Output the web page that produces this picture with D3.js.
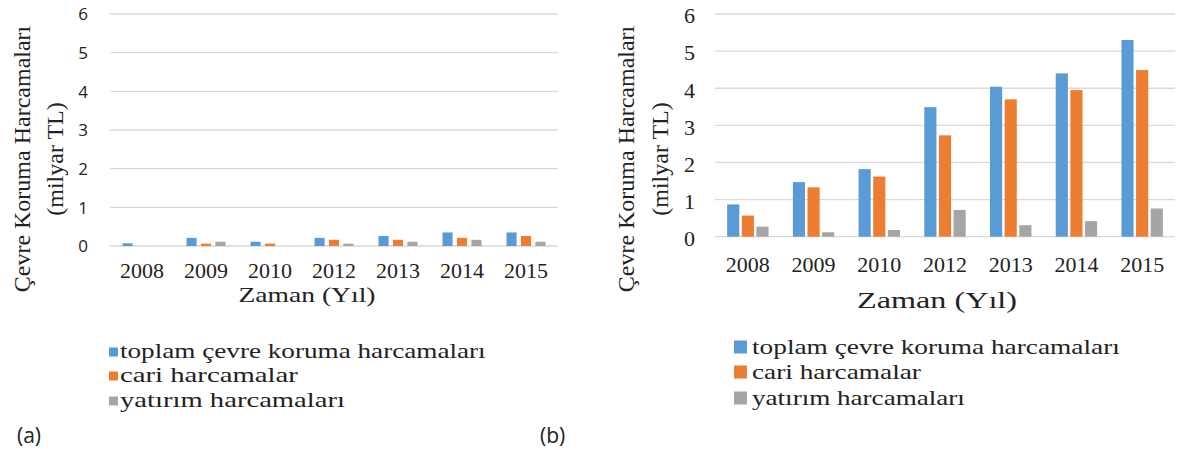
<!DOCTYPE html>
<html><head><meta charset="utf-8">
<script src="https://cdn.jsdelivr.net/npm/d3@7"></script>
<style>body{margin:0;background:#fff}svg{display:block}</style>
</head><body>
<svg id="c" width="1184" height="450"></svg>
<script>
const years = ["2008","2009","2010","2012","2013","2014","2015"];
const seriesNames = ["toplam çevre koruma harcamaları","cari harcamalar","yatırım harcamaları"];
const seriesColors = ["#5B9BD5","#ED7D31","#A5A5A5"];
const yTicks = [0,1,2,3,4,5,6];
// panel (a)
const aTotal   = [0.07, 0.21, 0.11, 0.21, 0.26, 0.35, 0.35];
const aCurrent = [0.00, 0.06, 0.06, 0.16, 0.16, 0.21, 0.26];
const aInvest  = [0.00, 0.11, 0.00, 0.06, 0.11, 0.16, 0.11];
// panel (b)
const bTotal   = [0.87, 1.47, 1.82, 3.49, 4.04, 4.40, 5.30];
const bCurrent = [0.57, 1.33, 1.62, 2.73, 3.70, 3.95, 4.49];
const bInvest  = [0.27, 0.12, 0.18, 0.72, 0.31, 0.42, 0.76];
const yTitle1 = "Çevre Koruma Harcamaları";
const yTitle2 = "(milyar TL)";
const xTitle = "Zaman (Yıl)";

const svg = d3.select("#c");
const SERIF = "'Liberation Serif', 'Times New Roman', serif";
const SANS = "'Open Sans', 'Noto Sans', sans-serif";

// text stretched horizontally to a target width
function stretched(g, str, x, y, size, target, anchor) {
  const t = g.append("text").attr("font-family", SERIF).attr("font-size", size)
    .attr("fill", "#222").attr("text-anchor", anchor).attr("x", 0).attr("y", 0).text(str);
  const w = t.node().getComputedTextLength();
  const sx = target / w;
  t.attr("transform", `translate(${x},${y}) scale(${sx},1)`);
  return t;
}

function panel(o, data) {
  const g = svg.append("g");
  const x0 = d3.scaleBand().domain(years).range([o.x0, o.x1]).paddingInner(o.pin).paddingOuter(o.pin/2);
  const x1 = d3.scaleBand().domain([0,1,2]).range([0, x0.bandwidth()]).paddingInner(o.pbar);
  const y = d3.scaleLinear().domain([0,6]).range([o.yb, o.yt]);
  g.append("g").selectAll("line").data(yTicks).join("line")
    .attr("x1", o.x0).attr("x2", o.x1).attr("y1", d=>y(d)).attr("y2", d=>y(d))
    .attr("stroke", "#D9D9D9").attr("stroke-width", 1.3);
  const ya = d3.axisLeft(y).tickValues(yTicks).tickSize(0).tickPadding(0).tickFormat(d3.format("d"));
  const yg = g.append("g").attr("transform", `translate(${o.tickX},0)`).call(ya);
  yg.select(".domain").remove();
  yg.selectAll("text").attr("font-family", o.tickFont).attr("font-size", o.tickSize)
    .attr("fill", "#222").attr("dy", o.tickDy);
  const rows = years.map((yr,i)=>({yr, vals:[data[0][i],data[1][i],data[2][i]]}));
  const grp = g.append("g").selectAll("g").data(rows).join("g")
    .attr("transform", d=>`translate(${x0(d.yr)},0)`);
  grp.selectAll("rect").data(d=>d.vals.map((v,k)=>({v,k}))).join("rect")
    .attr("x", d=>x1(d.k)).attr("width", x1.bandwidth())
    .attr("y", d=>y(d.v)).attr("height", d=>y(0)-y(d.v))
    .attr("fill", d=>seriesColors[d.k]);
  const xa = d3.axisBottom(x0).tickSize(0).tickPadding(0);
  const xg = g.append("g").attr("transform", `translate(0,${o.xLabY})`).call(xa);
  xg.select(".domain").remove();
  xg.selectAll("text").attr("font-family", SERIF).attr("font-size", o.xSize).attr("fill", "#222").attr("dy", 0);
  // x title
  stretched(g, xTitle, o.xtX, o.xtY, o.xtSize, o.xtLen, "middle");
  // y title (two lines, rotated)
  [[yTitle1,o.yt1X],[yTitle2,o.yt2X]].forEach(([t,xx])=>{
    g.append("text").attr("transform", `translate(${xx},${o.ytY}) rotate(-90)`)
      .attr("text-anchor","middle").attr("font-family", SERIF).attr("font-size", o.ytSize)
      .attr("fill","#222").text(t);
  });
  // legend
  seriesNames.forEach((s,k)=>{
    const cy = o.legY[k];
    g.append("rect").attr("x", o.legX).attr("y", cy - o.legSq/2).attr("width", o.legSq).attr("height", o.legSq)
      .attr("fill", seriesColors[k]);
    stretched(g, s, o.legTX, cy + o.legSize*0.3, o.legSize, o.legLen[k], "start");
  });
  svg.append("text").attr("x", o.pX).attr("y", 443).attr("font-family", SANS).attr("font-size", 21)
    .attr("fill","#222").text(o.pLabel);
}

panel({x0:110, x1:558, yb:246, yt:14, pin:0.39, pbar:0.3,
  tickX:88, tickFont:SANS, tickSize:17, tickDy:"0.35em",
  xLabY:278, xSize:22, xtX:307, xtY:302, xtSize:21, xtLen:137,
  yt1X:30, yt2X:63, ytY:159, ytSize:24,
  legX:109, legSq:9, legTX:120, legY:[352,376,401], legSize:21, legLen:[366,178,225],
  pX:17, pLabel:"(a)"}, [aTotal,aCurrent,aInvest]);

panel({x0:715, x1:1175, yb:236.7, yt:14, pin:0.37, pbar:0.17,
  tickX:695, tickFont:SERIF, tickSize:22, tickDy:"0.4em",
  xLabY:272, xSize:22, xtX:937, xtY:308, xtSize:23, xtLen:160,
  yt1X:634, yt2X:668, ytY:159, ytSize:24,
  legX:734, legSq:13, legTX:752, legY:[347,372,398], legSize:22, legLen:[368,169,213],
  pX:540, pLabel:"(b)"}, [bTotal,bCurrent,bInvest]);
</script>
</body></html>
